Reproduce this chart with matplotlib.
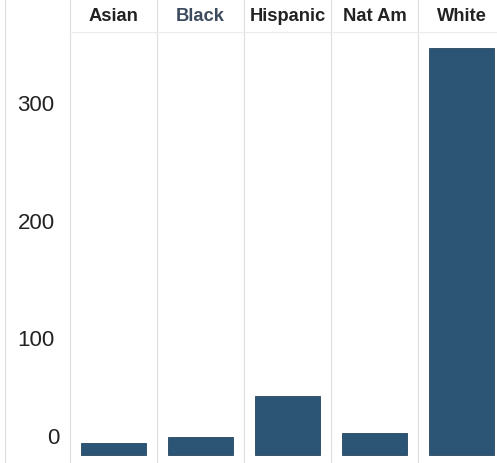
import matplotlib.pyplot as plt
import matplotlib.transforms as mtransforms

W, H = 497, 464
DPI = 100

BAR = "#2c5474"
LINE = "#dedede"
TXT = "#222222"

groups = ["Asian", "Black", "Hispanic", "Nat Am", "White"]
values = [10, 15, 50, 19, 346]
label_colors = [TXT, "#3d4b5e", TXT, TXT, TXT]
yticks = [0, 100, 200, 300]

plt.rcParams["font.family"] = ["Liberation Sans", "DejaVu Sans"]

fig = plt.figure(figsize=(W / DPI, H / DPI), dpi=DPI)
fig.patch.set_facecolor("white")

def px(x0, y0, w, h):
    # pixel box (top-left origin) -> figure fraction
    return [x0 / W, 1 - (y0 + h) / H, w / W, h / H]

head_h = 33
panel_w = 87
left0 = 70
ymin, ymax = -6.8, 359.5

# left frame line of the y-axis column
axy = fig.add_axes(px(5, 0, left0 - 5, H))
axy.set_xticks([]); axy.set_yticks([])
for s in ["top", "right", "bottom"]:
    axy.spines[s].set_visible(False)
axy.spines["left"].set_color(LINE)
axy.patch.set_alpha(0)

for i, (g, v, lc) in enumerate(zip(groups, values, label_colors)):
    x0 = left0 + panel_w * i
    ax = fig.add_axes(px(x0, head_h, panel_w, H - head_h))
    ax.bar([0], [v], width=0.75, color=BAR, edgecolor="#24465f", linewidth=0.6)
    ax.set_xlim(-0.5, 0.5)
    ax.set_ylim(ymin, ymax)
    ax.set_xticks([])
    for s in ["top", "right", "bottom"]:
        ax.spines[s].set_visible(False)
    ax.spines["left"].set_color(LINE)
    if i == 0:
        ax.set_yticks(yticks)
        ax.set_yticklabels([str(t) for t in yticks], fontsize=16, color=TXT)
        ax.tick_params(axis="y", length=0, pad=11)
        lab0 = ax.get_yticklabels()[0]
        lab0.set_va("bottom")
        lab0.set_transform(lab0.get_transform() +
                           mtransforms.ScaledTranslation(5 / DPI, 7 / DPI, fig.dpi_scale_trans))
    else:
        ax.set_yticks([])

    hx = fig.add_axes(px(x0, 0, panel_w, head_h))
    hx.set_xticks([]); hx.set_yticks([])
    for s in ["top", "right"]:
        hx.spines[s].set_visible(False)
    hx.spines["left"].set_color(LINE)
    hx.spines["bottom"].set_color("#ececec")
    hx.text(0.5, 0.5, g, ha="center", va="center", fontsize=13.2,
            fontweight="bold", color=lc, transform=hx.transAxes)

fig.savefig("out.png", dpi=DPI, facecolor="white")
